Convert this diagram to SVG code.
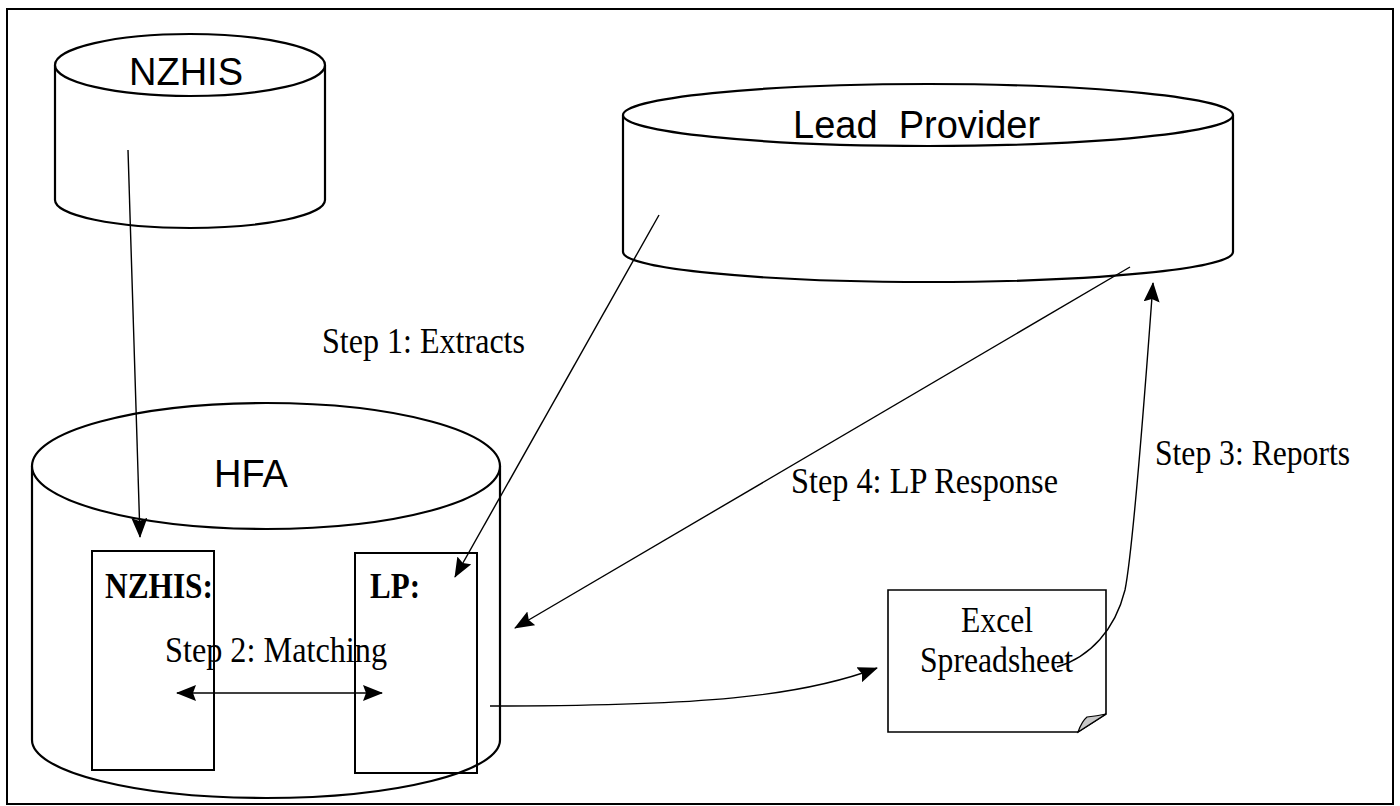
<svg xmlns="http://www.w3.org/2000/svg" width="1400" height="806" viewBox="0 0 1400 806">
<style>
.shape{fill:#fff;stroke:#000;stroke-width:2.2}
.box{fill:none;stroke:#000;stroke-width:2}
.conn{fill:none;stroke:#000;stroke-width:1.4}
.sans{font-family:"Liberation Sans",Arial,sans-serif;font-size:38px;fill:#000}
.serif{font-family:"Liberation Serif","Times New Roman",serif;font-size:35px;fill:#000}
.bold{font-weight:bold}
</style>
<defs>
<marker id="arr" markerUnits="userSpaceOnUse" markerWidth="20" markerHeight="16" viewBox="0 0 20 16" refX="19" refY="8" orient="auto-start-reverse">
<path d="M0,0 L20,8 L0,16 L3,8 z" fill="#000"/>
</marker>
</defs>
<rect x="7" y="9" width="1386" height="795" fill="#fff" stroke="#000" stroke-width="2"/>

<g id="nzhis">
<path class="shape" d="M55,65 V200 A135,28 0 0 0 325,200 V65"/>
<ellipse class="shape" cx="190" cy="65" rx="135" ry="31"/>
<text class="sans" x="129" y="85">NZHIS</text>
</g>

<g id="lead-provider">
<path class="shape" d="M623,115 V252 A305,30 0 0 0 1233,252 V115"/>
<ellipse class="shape" cx="928" cy="115" rx="305" ry="31"/>
<text class="sans" x="793" y="138">Lead&#160; Provider</text>
</g>

<g id="hfa">
<path class="shape" d="M32,466 V740 A234,58 0 0 0 500,740 V466"/>
<ellipse class="shape" cx="266" cy="466" rx="234" ry="63"/>
<text class="sans" x="214" y="487">HFA</text>
</g>

<g id="nzhis-box">
<rect class="box" x="92" y="551" width="122" height="219"/>
<text class="serif bold" x="105" y="598" textLength="108" lengthAdjust="spacingAndGlyphs">NZHIS:</text>
</g>

<g id="lp-box">
<rect class="box" x="355" y="553" width="122" height="220"/>
<text class="serif bold" x="370" y="598" textLength="50" lengthAdjust="spacingAndGlyphs">LP:</text>
</g>

<g id="excel">
<path d="M888,590 H1106 V714 L1078,732 H888 Z" fill="#fff" stroke="#000" stroke-width="1.6"/>
<path d="M1078,732 Q1082,721 1087,717 Q1097,716 1106,714 Z" fill="#c8c8c8" stroke="#000" stroke-width="1.2"/>
<text class="serif" x="961" y="632" textLength="72" lengthAdjust="spacingAndGlyphs">Excel</text>
<text class="serif" x="920" y="672" textLength="153" lengthAdjust="spacingAndGlyphs">Spreadsheet</text>
</g>

<g id="connectors">
<line class="conn" x1="128" y1="150" x2="140" y2="537" marker-end="url(#arr)"/>
<line class="conn" x1="659" y1="215" x2="455" y2="577" marker-end="url(#arr)"/>
<line class="conn" x1="1130" y1="267" x2="515" y2="628" marker-end="url(#arr)"/>
<path class="conn" d="M490,706 C700,706 800,697 877,668" marker-end="url(#arr)"/>
<path class="conn" d="M1057,667 C1090,657 1115,630 1125,590 C1133,550 1143,420 1153,283" marker-end="url(#arr)"/>
<line class="conn" x1="177" y1="693" x2="382" y2="693" marker-start="url(#arr)" marker-end="url(#arr)"/>
</g>

<g id="labels">
<text class="serif" x="322" y="353" textLength="203" lengthAdjust="spacingAndGlyphs">Step 1: Extracts</text>
<text class="serif" x="165" y="662" textLength="222" lengthAdjust="spacingAndGlyphs">Step 2: Matching</text>
<text class="serif" x="1155" y="465" textLength="195" lengthAdjust="spacingAndGlyphs">Step 3: Reports</text>
<text class="serif" x="791" y="493" textLength="267" lengthAdjust="spacingAndGlyphs">Step 4: LP Response</text>
</g>
</svg>
